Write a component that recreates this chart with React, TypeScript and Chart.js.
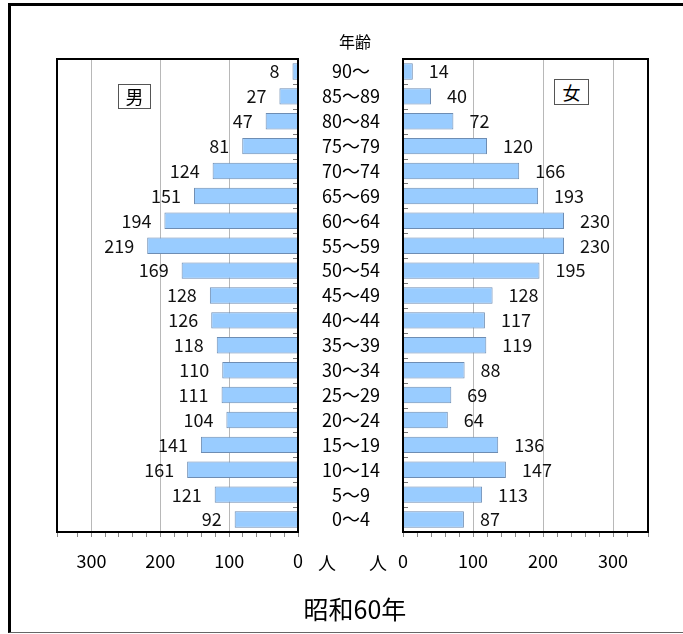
import React, { useEffect, useRef } from "react";
import { Chart, registerables } from "chart.js";

Chart.register(...registerables);

const ageLabels = [
  "90～", "85～89", "80～84", "75～79", "70～74", "65～69", "60～64", "55～59", "50～54",
  "45～49", "40～44", "35～39", "30～34", "25～29", "20～24", "15～19", "10～14", "5～9", "0～4",
];
const maleValues = [8, 27, 47, 81, 124, 151, 194, 219, 169, 128, 126, 118, 110, 111, 104, 141, 161, 121, 92];
const femaleValues = [14, 40, 72, 120, 166, 193, 230, 230, 195, 128, 117, 119, 88, 69, 64, 136, 147, 113, 87];
const axisMax = 350;
const majorStep = 100;
const minorStep = 20;

const FONT = "'Noto Sans CJK JP', 'Liberation Sans', sans-serif";

function makePanelPlugin(side: "left" | "right") {
  return {
    id: "panel-" + side,
    afterDatasetsDraw(chart: any) {
      const ctx = chart.ctx;
      const meta = chart.getDatasetMeta(0);
      const data = chart.data.datasets[0].data as number[];
      ctx.save();
      ctx.font = "18px " + FONT;
      ctx.fillStyle = "#111";
      ctx.textBaseline = "middle";
      meta.data.forEach((el: any, i: number) => {
        if (side === "left") {
          ctx.textAlign = "right";
          ctx.fillText(String(data[i]), el.x - 13, el.y);
        } else {
          ctx.textAlign = "left";
          ctx.fillText(String(data[i]), el.x + 16, el.y);
        }
      });
      ctx.restore();
    },
    afterDraw(chart: any) {
      const ctx = chart.ctx;
      const a = chart.chartArea;
      ctx.save();
      const n = ageLabels.length;
      const rowH = (a.bottom - a.top) / n;
      ctx.strokeStyle = "#777";
      ctx.lineWidth = 1;
      for (let i = 1; i < n; i++) {
        const y = Math.round(a.top + i * rowH) + 0.5;
        ctx.beginPath();
        if (side === "left") {
          ctx.moveTo(a.right - 5, y);
          ctx.lineTo(a.right, y);
        } else {
          ctx.moveTo(a.left, y);
          ctx.lineTo(a.left + 5, y);
        }
        ctx.stroke();
      }
      ctx.strokeStyle = "#000";
      ctx.lineWidth = 2;
      ctx.strokeRect(a.left, a.top, a.right - a.left, a.bottom - a.top);
      ctx.restore();
    },
  };
}

function buildConfig(side: "left" | "right", values: number[]): any {
  const isLeft = side === "left";
  return {
    type: "bar",
    data: {
      labels: ageLabels,
      datasets: [
        {
          data: values,
          backgroundColor: "#99ccff",
          borderColor: "#6e8db3",
          borderWidth: 1,
          barPercentage: 0.66,
          categoryPercentage: 1,
        },
      ],
    },
    options: {
      indexAxis: "y",
      animation: false,
      responsive: false,
      maintainAspectRatio: false,
      layout: {
        padding: isLeft
          ? { left: 57, top: 59, right: 0, bottom: 0 }
          : { left: 403, top: 59, right: 35, bottom: 0 },
      },
      plugins: { legend: { display: false }, tooltip: { enabled: false } },
      scales: {
        x: {
          type: "linear",
          reverse: isLeft,
          min: 0,
          max: axisMax,
          ticks: {
            stepSize: minorStep,
            autoSkip: false,
            maxRotation: 0,
            color: "#000",
            padding: 13,
            font: { size: 18, family: FONT },
            callback: (v: number) => (v % majorStep === 0 && v < axisMax ? String(v) : ""),
          },
          grid: {
            color: (c: any) =>
              c.tick && c.tick.value % majorStep === 0 && c.tick.value !== 0 && c.tick.value < axisMax
                ? "#b8b8b8"
                : "rgba(0,0,0,0)",
            tickColor: "#888",
            tickLength: 5,
            drawTicks: true,
          },
          border: { display: false },
          afterFit: (s: any) => {
            s.height = 60;
          },
        },
        y: isLeft
          ? {
              display: true,
              position: "right",
              ticks: {
                autoSkip: false,
                color: "#000",
                crossAlign: "center",
                padding: 24,
                font: { size: 18, family: FONT },
              },
              grid: { display: false, drawTicks: false },
              border: { display: false },
              afterFit: (s: any) => {
                s.width = 104;
              },
            }
          : { display: false },
      },
    },
    plugins: [makePanelPlugin(side)],
  };
}

function Panel({ side, values, width }: { side: "left" | "right"; values: number[]; width: number }) {
  const ref = useRef<HTMLCanvasElement | null>(null);
  useEffect(() => {
    if (!ref.current) return;
    const chart = new Chart(ref.current, buildConfig(side, values));
    return () => chart.destroy();
  }, [side, values]);
  return (
    <canvas
      ref={ref}
      width={width}
      height={592}
      style={{ position: "absolute", left: 0, top: 0, width: width + "px", height: "592px" }}
    />
  );
}

export default function App() {
  const textStyle: React.CSSProperties = {
    position: "absolute",
    fontFamily: FONT,
    color: "#000",
    whiteSpace: "nowrap",
    lineHeight: 1,
  };
  return (
    <div
      style={{
        position: "fixed",
        left: 0,
        top: 0,
        width: "683px",
        height: "634px",
        overflow: "hidden",
        background: "#fff",
      }}
    >
      <div
        style={{
          position: "absolute",
          left: "8px",
          top: "3px",
          width: "720px",
          height: "626px",
          borderTop: "3px solid #000",
          borderLeft: "3px solid #000",
          borderBottom: "1px solid #666",
        }}
      />
      <Panel side="left" values={maleValues} width={402} />
      <Panel side="right" values={femaleValues} width={683} />
      <div style={{ ...textStyle, left: "325px", top: "33px", fontSize: "16px", width: "60px", textAlign: "center" }}>年齢</div>
      <div
        style={{
          ...textStyle,
          left: "118px",
          top: "84px",
          width: "31px",
          height: "23px",
          border: "1px solid #555",
          fontSize: "18px",
          textAlign: "center",
          lineHeight: "23px",
          background: "#fff",
        }}
      >
        男
      </div>
      <div
        style={{
          ...textStyle,
          left: "554px",
          top: "79px",
          width: "33px",
          height: "24px",
          border: "1px solid #555",
          fontSize: "18px",
          textAlign: "center",
          lineHeight: "24px",
          background: "#fff",
        }}
      >
        女
      </div>
      <div style={{ ...textStyle, left: "318px", top: "553px", fontSize: "18px" }}>人</div>
      <div style={{ ...textStyle, left: "369px", top: "553px", fontSize: "18px" }}>人</div>
      <div style={{ ...textStyle, left: "230px", top: "596px", width: "250px", textAlign: "center", fontSize: "25px" }}>
        昭和60年
      </div>
    </div>
  );
}
